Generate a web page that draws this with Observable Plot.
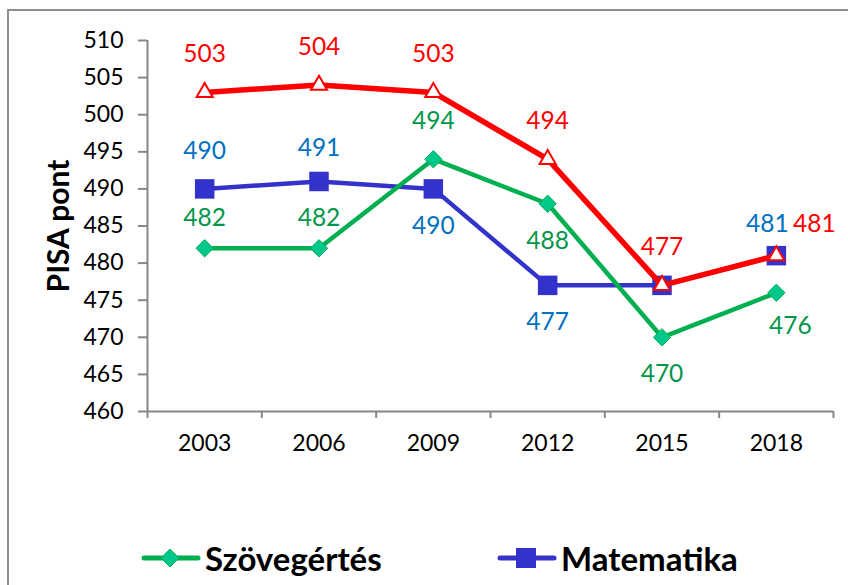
<!DOCTYPE html>
<html>
<head>
<meta charset="utf-8">
<script src="https://cdn.jsdelivr.net/npm/d3@7"></script>
<script src="https://cdn.jsdelivr.net/npm/@observablehq/plot@0.6"></script>
<style>
  body { margin: 0; background: #fff; font-family: Lato, sans-serif; }
  #wrap { position: relative; width: 848px; height: 585px; overflow: hidden; background: #fff; }
  #frame { position: absolute; left: 7px; top: 9px; width: 1000px; height: 1000px;
           border-left: 2px solid #8e8e8e; border-top: 2px solid #8e8e8e; }
  #chart { position: absolute; left: 0; top: 0; }
  .leg { position: absolute; top: 539px; height: 38px; display: flex; align-items: center;
         font: bold 33px Lato, sans-serif; color: #000; }
  .leg svg { margin-right: 3px; }
</style>
</head>
<body>
<div id="wrap">
  <div id="frame"></div>
  <div id="chart"></div>
  <div class="leg" style="left:140px">
    <svg width="62" height="36"><line x1="4" y1="18" x2="58" y2="18" stroke="#00B050" stroke-width="5" stroke-linecap="round"/><path d="M30,9 L39,18 L30,27 L21,18 Z" fill="#00C88A" stroke="#00B050" stroke-width="1"/></svg>Szövegértés
  </div>
  <div class="leg" style="left:496px">
    <svg width="62" height="36"><line x1="4" y1="18" x2="58" y2="18" stroke="#3333CC" stroke-width="5" stroke-linecap="round"/><rect x="20" y="8" width="20" height="20" fill="#3333CC"/></svg>Matematika
  </div>
</div>
<script>
const years = ["2003", "2006", "2009", "2012", "2015", "2018"];
const szovegertes = [482, 482, 494, 488, 470, 476];
const matematika = [490, 491, 490, 477, 477, 481];
const termeszettudomany = [503, 504, 503, 494, 477, 481];
const yTicks = [460, 465, 470, 475, 480, 485, 490, 495, 500, 505, 510];

// label placement per point (null = no label)
const placement = {
  "Matematika": ["above", "aboveMid", "below", "below", null, "aboveLeft"],
  "Szövegértés": ["aboveNear", "aboveNear", "above", "below", "below", "belowRight"],
  "Természettudomány": ["above", "above", "above", "above", "above", "right"]
};
const offsets = {
  above: [0, -38], aboveMid: [0, -33], aboveNear: [0, -30], below: [0, 37],
  aboveLeft: [-9, -32], belowRight: [14, 33], right: [38, -32]
};

const rows = (series, values) => values.map((v, i) => ({
  series, i, x: i + 0.5, year: years[i], value: v, pos: placement[series][i]
}));
const green = rows("Szövegértés", szovegertes);
const blue = rows("Matematika", matematika);
const red = rows("Természettudomány", termeszettudomany);

const labelColor = {"Szövegértés": "#00964B", "Matematika": "#0070C0", "Természettudomány": "#FF0000"};

function labels(data) {
  return Object.entries(offsets).map(([k, [dx, dy]]) =>
    Plot.text(data.filter(d => d.pos === k), {
      x: "x", y: "value", text: d => String(d.value), dx, dy,
      fill: labelColor[data[0].series], fontSize: 24.5
    })
  );
}

const gray = "#868686";

const chart = Plot.plot({
  width: 848,
  height: 470,
  marginLeft: 147,
  marginRight: 15,
  marginTop: 40,
  marginBottom: 59,
  style: { fontFamily: "Lato, sans-serif", background: "transparent", overflow: "visible" },
  x: { type: "linear", domain: [0, years.length] },
  y: { domain: [460, 510] },
  marks: [
    Plot.axisY({ ticks: yTicks, tickSize: 9, tickPadding: 15, stroke: gray, strokeWidth: 2, fill: "#000", fontSize: 23, label: null }),
    Plot.axisX({ ticks: d3.range(years.length + 1), tickSize: 7, tickFormat: () => "", stroke: gray, strokeWidth: 2, label: null }),
    Plot.axisX({ ticks: years.map((_, i) => i + 0.5), tickSize: 0, tickPadding: 23, tickFormat: d => years[Math.floor(d)], fill: "#000", fontSize: 23, label: null }),
    Plot.ruleY([460], { stroke: gray, strokeWidth: 2 }),
    Plot.ruleX([0], { stroke: gray, strokeWidth: 2 }),
    Plot.text(["PISA pont"], { frameAnchor: "left", textAnchor: "middle", dx: -88, rotate: -90, fontSize: 30, fontWeight: "bold", fill: "#000" }),
    // Matematika
    Plot.line(blue, { x: "x", y: "value", stroke: "#3333CC", strokeWidth: 4.5 }),
    Plot.dot(blue, { x: "x", y: "value", symbol: "square", r: 11, fill: "#3333CC", stroke: "none" }),
    // Szövegértés
    Plot.line(green, { x: "x", y: "value", stroke: "#00B050", strokeWidth: 4.5 }),
    Plot.dot(green, { x: "x", y: "value", symbol: "diamond2", r: 7.8, fill: "#00C88A", stroke: "#00B050", strokeWidth: 1 }),
    // Természettudomány
    Plot.line(red, { x: "x", y: "value", stroke: "#FF0000", strokeWidth: 5.5 }),
    Plot.dot(red, { x: "x", y: "value", symbol: "triangle", r: 6, fill: "#fff", stroke: "#FF0000", strokeWidth: 2 }),
    ...labels(blue),
    ...labels(green),
    ...labels(red)
  ]
});
document.getElementById("chart").appendChild(chart);
</script>
</body>
</html>
